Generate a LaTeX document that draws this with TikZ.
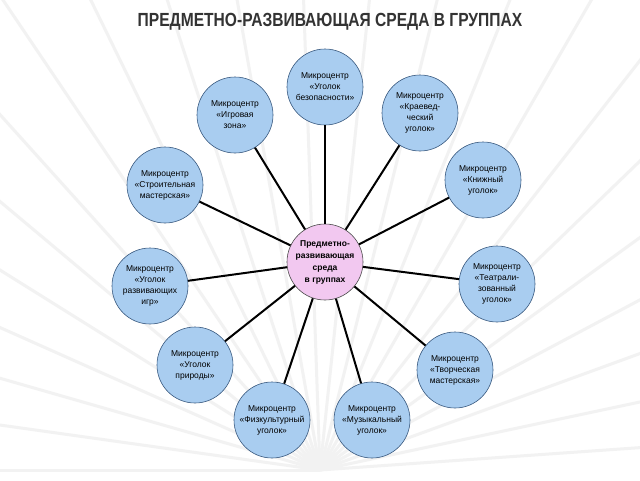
\documentclass[tikz,border=0pt]{standalone}
\usepackage{fontspec}
\setmainfont{Liberation Sans}
\definecolor{satfill}{HTML}{A9CDF0}
\definecolor{satline}{HTML}{3A5A80}
\definecolor{hubfill}{HTML}{F2C8F0}
\begin{document}
\begin{tikzpicture}[x=1pt,y=-1pt,
  sat/.style={circle,draw=satline,fill=satfill,line width=0.6pt,minimum size=76pt,inner sep=0pt,align=center,font=\fontsize{8.5}{11}\selectfont},
  hub/.style={circle,draw=black!70,fill=hubfill,line width=0.6pt,minimum size=76pt,inner sep=0pt,align=center,font=\bfseries\fontsize{8.5}{12}\selectfont},
  spoke/.style={line width=2pt,black}]
\useasboundingbox (0,0) rectangle (640,480);
\fill[white] (0,0) rectangle (640,480);
\foreach \a in {0,8,...,180}{\draw[black!5,line width=3pt] (320,470) -- ++({180+\a}:700);}
\node[font=\bfseries\fontsize{19}{22}\selectfont,text=black!80,xscale=0.82] (title) at (330,22) {ПРЕДМЕТНО-РАЗВИВАЮЩАЯ СРЕДА В ГРУППАХ};
\node[sat] (s1) at (325,87) {Микроцентр\\«Уголок\\безопасности»};
\node[sat] (s2) at (420,113) {Микроцентр\\«Краевед-\\ческий\\уголок»};
\node[sat] (s3) at (483,180) {Микроцентр\\«Книжный\\уголок»};
\node[sat] (s4) at (497,284) {Микроцентр\\«Театрали-\\зованный\\уголок»};
\node[sat] (s5) at (455,370) {Микроцентр\\«Творческая\\мастерская»};
\node[sat] (s6) at (372,420) {Микроцентр\\«Музыкальный\\уголок»};
\node[sat] (s7) at (272,420) {Микроцентр\\«Физкультурный\\уголок»};
\node[sat] (s8) at (195,365) {Микроцентр\\«Уголок\\природы»};
\node[sat] (s9) at (150,286) {Микроцентр\\«Уголок\\развивающих\\игр»};
\node[sat] (s10) at (165,185) {Микроцентр\\«Строительная\\мастерская»};
\node[sat] (s11) at (235,115) {Микроцентр\\«Игровая\\зона»};
\node[hub] (c) at (325,262) {Предметно-\\развивающая\\среда\\в группах};
\foreach \i in {1,...,11}{\draw[spoke] (c) -- (s\i);}
\end{tikzpicture}
\end{document}
